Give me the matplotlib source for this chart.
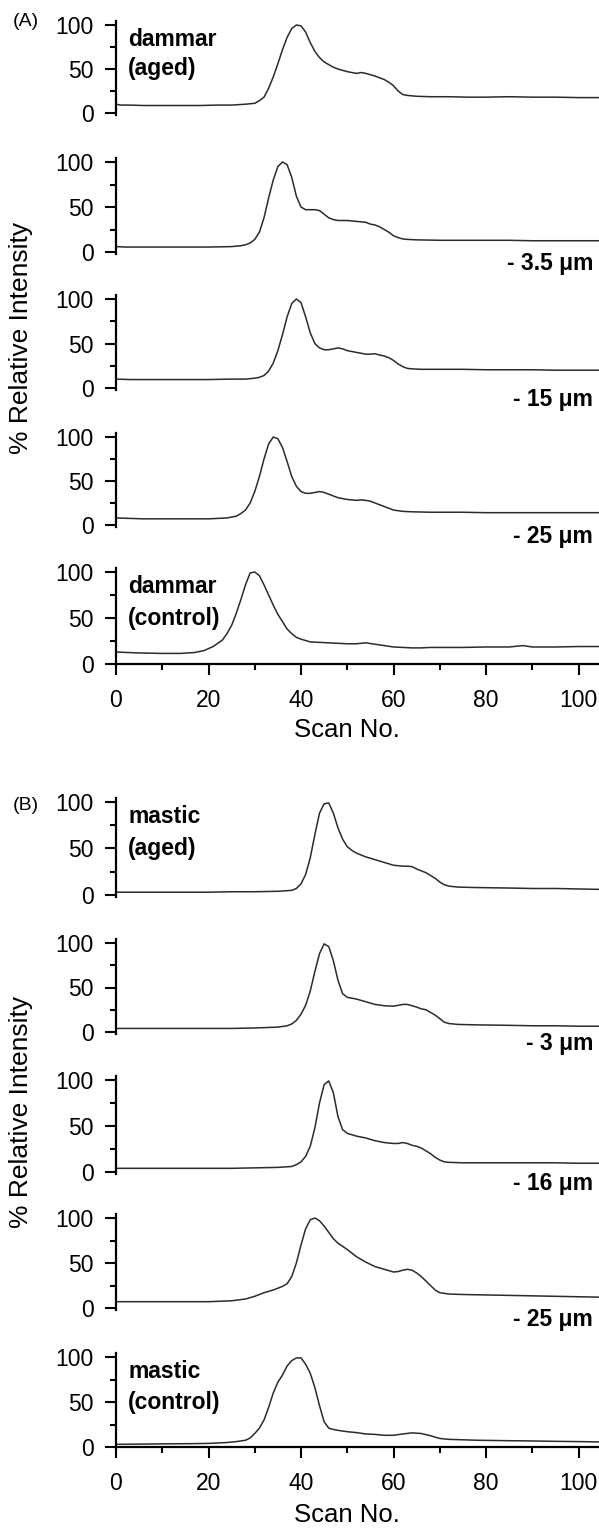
import matplotlib
matplotlib.use("Agg")
import matplotlib.pyplot as plt
from matplotlib.ticker import MultipleLocator, FixedLocator

plt.rcParams['font.family'] = ['Liberation Sans', 'DejaVu Sans']

# ---------------- data ----------------
# Panel A: dammar
a1_x = [0,1,3,6,10,14,18,22,25,28,30,31,32,33,34,35,36,37,38,39,40,41,42,43,44,45,46,47,48,50,52,53,54,56,57,58,59,60,61,62,63,65,68,72,76,80,85,90,95,100,105]
a1_y = [10,9,9,8.5,8.5,8.5,8.5,9,9,10,11,14,18,28,41,56,72,86,96,100,99,92,80,70,63,58,55,52,50,47,45,46,45,42,40,38,35,31,25,21,20,19,18.5,18.5,18,18,18.5,18,18,17.5,17.5]

a2_x = [0,2,5,10,15,20,25,27,28,29,30,31,32,33,34,35,36,37,38,39,40,41,42,43,44,45,46,47,48,50,52,54,55,56,57,58,59,60,61,62,63,65,70,75,80,85,90,95,100,105]
a2_y = [6,5.5,5.5,5.5,5.5,5.5,6,7,8,10,14,22,38,60,80,95,100,97,83,62,50,47,47,47,46,42,38,36,35,35,34,33,31,30,28,25,22,18,16,14.5,14,13.5,13,13,13,13,12.5,12.5,12.5,12.5]

a3_x = [0,3,6,10,15,20,25,28,30,31,32,33,34,35,36,37,38,39,40,41,42,43,44,45,46,47,48,49,50,52,54,55,56,57,58,59,60,61,62,63,64,66,70,75,80,85,90,95,100,105]
a3_y = [10,9.5,9.5,9.5,9.5,9.5,10,10,11,12,14,19,28,42,60,80,95,100,96,80,62,50,45,43,43,44,45,44,42,40,38,38,38.5,37,36,34,31,27,24,22,21.5,21,21,21,20.5,20.5,20.5,20,20,20]

a4_x = [0,3,6,10,15,20,22,24,25,26,27,28,29,30,31,32,33,34,35,36,37,38,39,40,41,42,43,44,45,46,47,48,50,52,53,54,55,56,57,58,59,60,62,64,68,75,80,85,90,95,100,105]
a4_y = [8,7.5,7,7,7,7,7.5,8,9,10,13,17,25,38,55,75,92,100,98,88,72,55,44,38,36,36,37,38,37,35,33,31,29,28,28.5,28,27,25,23,21,19,17,15.5,15,14.5,14.5,14,14,14,14,14,14]

a5_x = [0,5,10,14,17,19,21,23,24,25,26,27,28,29,30,31,32,33,34,35,36,37,38,39,40,41,42,44,46,48,50,52,54,56,58,60,62,64,66,68,70,75,80,85,88,90,95,100,105]
a5_y = [13,12,11.5,11.5,12.5,14.5,19,26,33,42,55,70,86,99,100,96,86,75,64,54,46,38,33,29,27,25.5,24,23.5,23,22.5,22,22,23,21.5,20,18.5,18,17.5,17.5,18,18,18,18.5,18.5,20,18.5,18.5,19,19]

# Panel B: mastic
b1_x = [0,5,10,15,20,25,30,35,38,39,40,41,42,43,44,45,46,47,48,49,50,51,52,54,56,58,60,62,63,64,65,66,67,68,69,70,71,72,74,78,85,90,95,100,105]
b1_y = [3,3,3,3,3,3.5,3.5,4,5,7,12,22,40,65,88,98,99,88,72,60,52,48,45,41,38,35,32,31,31,30.5,28,26,24,21,18,14,11,9.5,8.5,8,7.5,7,7,6.5,6]

b2_x = [0,5,10,15,20,25,30,35,37,38,39,40,41,42,43,44,45,46,47,48,49,50,52,54,56,58,60,62,63,64,65,66,67,68,69,70,71,72,74,78,85,90,95,100,105]
b2_y = [4,4,4,4,4,4,4.5,5.5,7,9,13,20,30,46,68,88,99,96,80,58,43,39,37,34,31,29.5,29,31,31,29.5,28,26,25,22,19,15,11,9.5,8.5,8,7.5,7,7,6.5,6.5]

b3_x = [0,5,10,15,20,25,30,35,38,39,40,41,42,43,44,45,46,47,48,49,50,52,54,56,58,60,61,62,63,64,65,66,67,68,69,70,71,72,75,80,85,90,95,100,105]
b3_y = [4,4,4,4,4,4,4.5,5,6,8,11,17,28,48,75,95,99,86,60,46,42,39,37,34,32,31,31,32,31,29,28,26,23,20,16,13,11,10.5,10,10,10,10,10,9.5,9.5]

b4_x = [0,5,10,15,20,25,28,30,32,34,35,36,37,38,39,40,41,42,43,44,45,46,47,48,50,52,54,56,58,60,61,62,63,64,65,66,67,68,69,70,72,75,80,85,90,95,100,105]
b4_y = [7,7,7,7,7,8,10,13,17,20,22,24,27,35,50,70,88,98,100,97,91,84,77,72,65,57,51,46,43,40,40.5,42,43,42,39,35,30,25,20,17,15.5,15,14.5,14,13.5,13,12.5,12]

b5_x = [0,5,10,16,20,24,26,28,29,30,31,32,33,34,35,36,37,38,39,40,41,42,43,44,45,46,47,48,50,52,54,56,58,60,62,64,66,68,70,72,75,78,85,90,95,100,105]
b5_y = [3,3.2,3.5,3.7,4,5,6,7.5,10,15,21,30,44,60,72,80,90,96,99,99,92,82,66,46,28,21,19.5,18.5,17,16,14.5,14,13,13,14.5,15.7,15,12.5,9.5,8.5,8,7.5,7,6.7,6.3,6,5.6]

a_series = [(a1_x, a1_y), (a2_x, a2_y), (a3_x, a3_y), (a4_x, a4_y), (a5_x, a5_y)]
b_series = [(b1_x, b1_y), (b2_x, b2_y), (b3_x, b3_y), (b4_x, b4_y), (b5_x, b5_y)]

a_top_labels = ["dammar", "(aged)"]
a_bottom_labels = ["dammar", "(control)"]
a_depths = [None, "- 3.5 \u03bcm", "- 15 \u03bcm", "- 25 \u03bcm", None]
b_top_labels = ["mastic", "(aged)"]
b_bottom_labels = ["mastic", "(control)"]
b_depths = [None, "- 3 \u03bcm", "- 16 \u03bcm", "- 25 \u03bcm", None]

y_ticks = [0, 50, 100]
x_ticks = [0, 20, 40, 60, 80, 100]

# ---------------- layout (pixels) ----------------
W, H = 599, 1531
fig = plt.figure(figsize=(W / 100, H / 100), dpi=100)

# (pixel of y=0, pixel of y=100) for each panel
a_pix = [(113, 25), (252, 162), (388, 299), (525, 437), (664, 572)]
b_pix = [(895, 802), (1032, 943), (1172, 1080), (1308, 1218), (1447, 1357)]
X0_PX = 116
PX_PER_X = 4.625
XMAX = (W - X0_PX) / PX_PER_X
YLO, YHI = -2.5, 104.5

LINE_COL = '#2b2b2b'
FS = 16.5


def make_axes(p0, p100):
    k = (p0 - p100) / 100.0
    bot = p0 - YLO * k
    top = p100 - (YHI - 100) * k
    rect = [X0_PX / W, 1 - bot / H, (W - X0_PX) / W, (bot - top) / H]
    ax = fig.add_axes(rect)
    ax.set_xlim(0, XMAX)
    ax.set_ylim(YLO, YHI)
    ax.patch.set_alpha(0)
    for s in ['top', 'right']:
        ax.spines[s].set_visible(False)
    ax.spines['left'].set_linewidth(1.6)
    ax.yaxis.set_major_locator(FixedLocator(y_ticks))
    ax.yaxis.set_minor_locator(FixedLocator([25, 75]))
    ax.tick_params(axis='y', which='major', direction='out', length=8, width=1.5,
                   labelsize=FS, pad=8)
    ax.tick_params(axis='y', which='minor', direction='out', length=4, width=1.5)
    return ax


def draw_block(series, pix, top_lab, bot_lab, depths, letter, letter_y, ylab_y, xlab_y):
    axes = []
    for i, ((xs, ys), (p0, p100)) in enumerate(zip(series, pix)):
        ax = make_axes(p0, p100)
        ax.plot(xs, ys, color=LINE_COL, lw=1.1, clip_on=False)
        last = (i == len(series) - 1)
        if last:
            ax.spines['bottom'].set_position(('data', 0))
            ax.spines['bottom'].set_linewidth(1.6)
            ax.xaxis.set_major_locator(FixedLocator(x_ticks))
            ax.xaxis.set_minor_locator(MultipleLocator(10))
            ax.tick_params(axis='x', which='major', direction='out', length=8, width=1.5,
                           labelsize=FS, pad=10)
            ax.tick_params(axis='x', which='minor', direction='out', length=4, width=1.5)
        else:
            ax.spines['bottom'].set_visible(False)
            ax.set_xticks([])
        if i == 0:
            labs = top_lab
        elif last:
            labs = bot_lab
        else:
            labs = None
        if labs:
            ax.text(2.6, 84, labs[0], fontsize=FS, fontweight='bold', ha='left', va='center')
            ax.text(2.6, 50, labs[1], fontsize=FS, fontweight='bold', ha='left', va='center')
        if depths[i]:
            ax.text(XMAX - 1.3, -13, depths[i], fontsize=FS, fontweight='bold',
                    ha='right', va='center', clip_on=False)
        axes.append(ax)
    fig.text(13 / W, 1 - letter_y / H, letter, fontsize=14, ha='left', va='center')
    fig.text(21 / W, 1 - ylab_y / H, "% Relative Intensity", fontsize=19,
             rotation=90, ha='center', va='center')
    fig.text((X0_PX + 50 * PX_PER_X) / W, 1 - xlab_y / H, "Scan No.", fontsize=18.5,
             ha='center', va='center')
    return axes


draw_block(a_series, a_pix, a_top_labels, a_bottom_labels, a_depths, "(A)", 22, 338, 730)
draw_block(b_series, b_pix, b_top_labels, b_bottom_labels, b_depths, "(B)", 806, 1112, 1515)

fig.savefig("out.png", dpi=100)
